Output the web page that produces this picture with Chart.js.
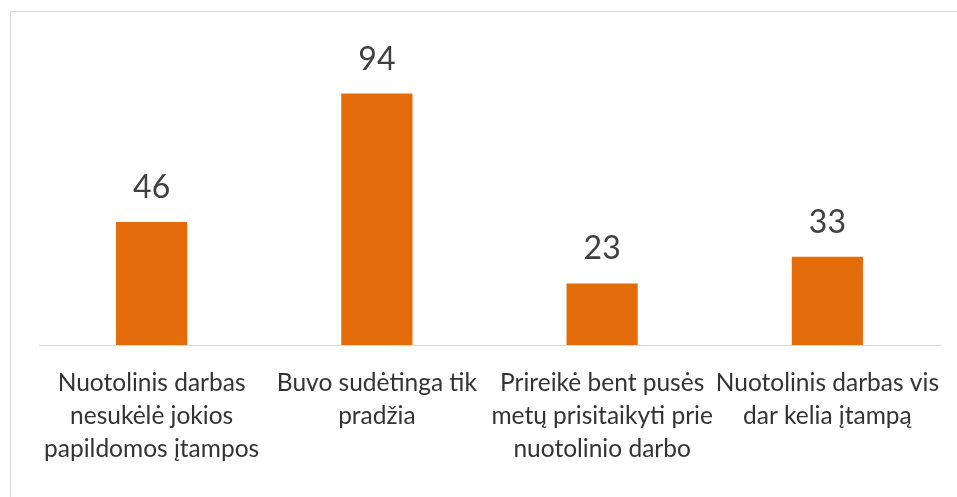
<!DOCTYPE html>
<html>
<head>
<meta charset="utf-8">
<script src="https://cdn.jsdelivr.net/npm/chart.js@4/dist/chart.umd.min.js"></script>
<style>
  html, body { margin: 0; padding: 0; background: #ffffff; }
  #wrap { position: relative; width: 957px; height: 497px; }
  #frame { position: absolute; left: 10px; top: 11px; right: 0; bottom: 0;
           border-left: 1px solid #d9d9d9; border-top: 1px solid #d9d9d9; }
  canvas { position: absolute; left: 0; top: 0; }
</style>
</head>
<body>
<div id="wrap">
  <div id="frame"></div>
  <canvas id="chart" width="957" height="497"></canvas>
</div>
<script>
// Answer categories, each split into the lines it is printed on
const categories = [
  ["Nuotolinis darbas", "nesukėlė jokios", "papildomos įtampos"],
  ["Buvo sudėtinga tik", "pradžia"],
  ["Prireikė bent pusės", "metų prisitaikyti prie", "nuotolinio darbo"],
  ["Nuotolinis darbas vis", "dar kelia įtampą"]
];
const values = [46, 94, 23, 33];

const BAR_COLOR = "#E46C0A";
const TEXT_COLOR = "#404040";

// Writes each bar's value above it
const valueLabels = {
  id: "valueLabels",
  afterDatasetsDraw(chart) {
    const ctx = chart.ctx;
    const meta = chart.getDatasetMeta(0);
    ctx.save();
    ctx.font = "32px Lato";
    ctx.fillStyle = TEXT_COLOR;
    ctx.textAlign = "center";
    ctx.textBaseline = "alphabetic";
    meta.data.forEach((bar, i) => {
      ctx.fillText(String(values[i]), bar.x, bar.y - 24);
    });
    ctx.restore();
  }
};

new Chart(document.getElementById("chart"), {
  type: "bar",
  data: {
    labels: categories,
    datasets: [{
      data: values,
      backgroundColor: BAR_COLOR,
      borderWidth: 0,
      categoryPercentage: 1.0,
      barPercentage: 0.316
    }]
  },
  options: {
    responsive: false,
    animation: false,
    layout: { padding: { left: 39, right: 17, top: 24, bottom: 0 } },
    plugins: {
      legend: { display: false },
      tooltip: { enabled: false }
    },
    scales: {
      x: {
        grid: { display: false },
        border: { display: true, color: "#d9d9d9", width: 1 },
        ticks: {
          color: "#333333",
          font: { family: "Lato", size: 24.5, lineHeight: 1.36 },
          padding: 13,
          maxRotation: 0,
          autoSkip: false
        },
        afterFit(scale) { scale.height = 152; }
      },
      y: {
        display: false,
        min: 0,
        max: 120
      }
    }
  },
  plugins: [valueLabels]
});
</script>
</body>
</html>
